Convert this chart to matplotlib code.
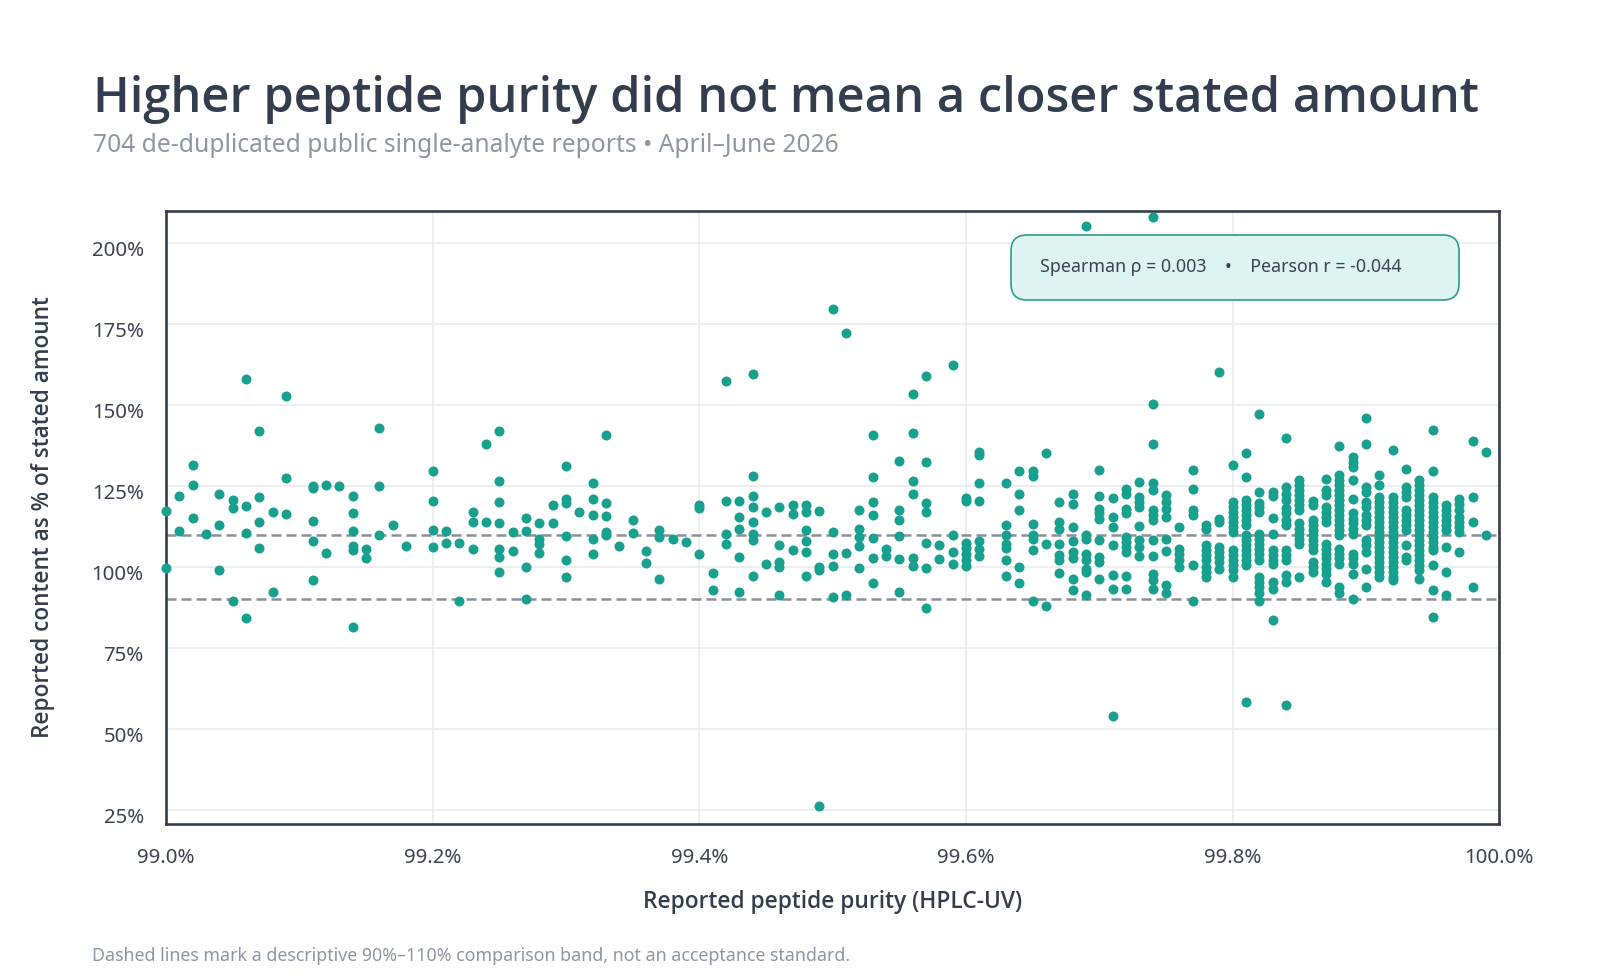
import numpy as np
import matplotlib
matplotlib.use("Agg")
import matplotlib.pyplot as plt
from matplotlib.patches import FancyBboxPatch
from matplotlib.transforms import IdentityTransform, ScaledTranslation

plt.rcParams['font.family'] = ['Noto Sans', 'DejaVu Sans']
heavy = ['Open Sans', 'Noto Sans', 'DejaVu Sans']

# reported purity (HPLC-UV, %) and the content values read at each purity level
purity_levels = [
    99.00, 99.01, 99.02, 99.03, 99.04, 99.05, 99.06, 99.07, 99.08, 99.09,
    99.11, 99.12, 99.13, 99.14, 99.15, 99.16, 99.17, 99.18,
    99.20, 99.21, 99.22, 99.23, 99.24, 99.25, 99.26, 99.27, 99.28, 99.29,
    99.30, 99.31, 99.32, 99.33, 99.34, 99.35, 99.36, 99.37, 99.38, 99.39,
    99.40, 99.41, 99.42, 99.43, 99.44, 99.45, 99.46, 99.47, 99.48, 99.49,
    99.50, 99.51, 99.52, 99.53, 99.54, 99.55, 99.56, 99.57, 99.58, 99.59,
    99.60, 99.61, 99.63, 99.64, 99.65, 99.66, 99.67, 99.68, 99.69,
    99.70, 99.71, 99.72, 99.73, 99.74, 99.75, 99.76, 99.77, 99.78, 99.79,
    99.80, 99.81, 99.82, 99.83, 99.84, 99.85, 99.86, 99.87, 99.88, 99.89,
    99.90, 99.91, 99.92, 99.93, 99.94, 99.95, 99.96, 99.97, 99.98, 99.99,
]

content_by_level = [
    [117.2, 99.8],
    [122.0, 111.2],
    [131.6, 125.4, 115.2],
    [110.3],
    [122.5, 112.8, 99.0],
    [120.6, 118.3, 89.4],
    [158.1, 118.7, 110.6, 84.1],
    [141.9, 121.5, 114.0, 105.7],
    [116.8, 92.1],
    [152.9, 127.3, 116.3],
    [125.0, 124.4, 114.2, 108.1, 95.9],
    [125.4, 104.4],
    [124.9],
    [122.0, 116.6, 111.2, 106.5, 105.2, 81.5],
    [105.5, 102.6],
    [143.0, 125.1, 110.0],
    [112.8],
    [106.6],
    [129.7, 120.5, 111.4, 106.2],
    [111.2, 107.5],
    [107.3, 89.4],
    [116.9, 114.0, 105.4],
    [138.1, 114.0],
    [142.1, 126.4, 120.1, 113.4, 105.5, 103.1, 98.4],
    [110.9, 104.8],
    [115.2, 111.2, 99.9, 90.2],
    [113.4, 108.6, 107.2, 104.4],
    [119.2, 113.4],
    [131.3, 121.0, 119.8, 109.4, 102.1, 97.0],
    [117.1],
    [126.0, 121.1, 116.0, 108.5, 104.0],
    [140.6, 119.7, 115.6, 110.8, 109.8],
    [106.4],
    [114.4, 110.4],
    [104.8, 101.1],
    [111.5, 109.1, 96.2],
    [108.5],
    [107.6],
    [119.1, 118.2, 104.1],
    [98.1, 92.8],
    [157.5, 120.5, 110.2, 107.0],
    [120.2, 115.4, 111.8, 103.1, 92.3],
    [159.7, 128.0, 121.8, 118.5, 113.9, 110.3, 108.2, 97.3],
    [116.8, 100.8],
    [118.5, 106.7, 101.6, 100.0, 91.3],
    [119.0, 116.2, 105.2],
    [119.0, 116.8, 111.3, 108.0, 104.6, 97.1],
    [117.4, 100.0, 99.0, 26.1],
    [179.5, 110.7, 104.1, 100.4, 90.6],
    [172.2, 104.3, 91.2],
    [117.5, 111.7, 109.3, 106.4, 99.7],
    [140.6, 127.7, 119.9, 116.0, 108.8, 102.7, 94.9],
    [105.4, 103.3],
    [132.6, 117.7, 114.4, 109.5, 102.4, 92.3],
    [153.3, 141.2, 126.5, 122.4, 102.6, 100.4],
    [159.1, 132.3, 119.7, 117.0, 107.5, 99.7, 87.2],
    [106.9, 102.3],
    [162.2, 110.0, 104.6, 100.8],
    [121.2, 120.3, 107.5, 105.7, 104.1, 102.1, 100.2],
    [135.5, 134.5, 126.0, 120.4, 107.9, 105.4, 103.3],
    [126.0, 112.8, 109.8, 107.2, 105.7, 102.1, 97.3],
    [129.5, 122.6, 117.5, 100.0, 95.0],
    [129.6, 128.0, 113.2, 109.8, 108.7, 105.3, 89.5],
    [135.3, 107.2, 88.0],
    [120.0, 113.9, 111.8, 107.0, 103.6, 102.0, 98.2],
    [122.6, 119.5, 112.3, 107.9, 104.6, 102.6, 96.3, 92.8],
    [205.2, 110.0, 108.7, 104.1, 102.0, 99.5, 98.4, 91.2],
    [129.8, 122.0, 118.0, 116.5, 114.9, 108.4, 103.1, 101.5, 96.4],
    [121.4, 115.4, 112.3, 106.9, 97.4, 93.3, 54.1],
    [124.2, 122.6, 118.0, 116.5, 109.2, 107.7, 106.2, 104.6, 97.1, 93.3],
    [126.2, 121.6, 120.0, 118.5, 112.6, 108.2, 106.2, 103.3],
    [207.9, 150.4, 138.1, 125.9, 123.7, 117.5, 115.9, 114.4, 108.4, 103.4, 97.9, 95.9, 93.3],
    [122.1, 120.0, 118.0, 115.4, 108.7, 104.9, 94.3, 91.8],
    [112.3, 105.6, 104.1, 102.0, 100.0],
    [130.0, 124.2, 117.5, 115.9, 100.5, 89.5],
    [112.8, 111.8, 106.7, 105.1, 103.6, 102.0, 100.0, 98.4, 96.9],
    [160.3, 114.9, 113.9, 106.2, 104.6, 103.1, 101.5, 99.5],
    [131.6, 120.0, 118.5, 117.0, 115.4, 113.9, 112.3, 110.8, 105.1, 103.6, 102.0, 100.5, 99.0, 96.9],
    [135.3, 127.8, 120.6, 119.0, 117.5, 115.9, 114.4, 112.9, 109.8, 108.2, 106.7, 105.1, 103.6,
     102.0, 100.5, 58.2],
    [147.3, 123.1, 119.7, 118.5, 117.0, 110.3, 108.7, 107.2, 105.6, 104.1, 102.0, 96.9, 95.4,
     93.8, 91.8, 89.5],
    [123.1, 121.8, 115.1, 110.3, 105.1, 103.6, 102.0, 100.8, 95.4, 93.3, 83.7],
    [139.9, 124.7, 122.6, 120.6, 118.2, 116.5, 114.6, 112.9, 105.1, 103.6, 102.0, 97.4, 95.4, 57.2],
    [126.7, 125.2, 123.6, 122.1, 120.6, 119.0, 117.5, 113.4, 111.8, 110.3, 108.7, 107.2, 96.9],
    [120.4, 119.0, 114.4, 112.9, 111.3, 109.8, 108.2, 106.7, 105.1, 101.5, 100.0, 98.4],
    [127.2, 123.6, 122.1, 118.5, 117.0, 115.4, 113.9, 107.2, 105.6, 104.1, 102.6, 101.0, 99.5,
     97.9, 95.4],
    [137.2, 128.3, 126.7, 125.2, 123.6, 122.1, 120.6, 119.0, 117.5, 115.9, 114.4, 112.9, 111.3,
     109.8, 105.6, 104.1, 102.6, 101.0, 93.8, 91.8],
    [133.9, 132.4, 130.9, 126.9, 121.1, 116.5, 114.9, 113.4, 111.8, 110.3, 104.1, 102.6, 101.0,
     97.9, 90.2],
    [146.1, 137.8, 124.7, 123.1, 120.0, 118.5, 115.9, 114.4, 112.9, 108.2, 106.7, 104.6, 99.2, 93.8],
    [128.3, 125.2, 121.6, 120.0, 118.5, 117.0, 115.4, 113.9, 112.3, 110.8, 109.2, 107.7, 106.2,
     104.6, 103.1, 101.5, 100.0, 98.4, 96.9],
    [136.2, 121.6, 120.0, 118.5, 117.0, 115.4, 113.9, 112.3, 110.8, 109.2, 107.7, 106.2, 104.6,
     103.1, 101.5, 100.0, 98.4, 96.9, 96.0],
    [130.3, 124.7, 123.1, 121.6, 117.5, 115.9, 114.4, 112.9, 111.3, 106.7, 103.1, 102.0],
    [126.7, 125.2, 123.6, 122.1, 120.6, 119.0, 117.5, 115.9, 114.4, 112.9, 111.3, 109.8, 108.2,
     106.7, 105.1, 103.6, 102.0, 100.5, 99.0, 96.4],
    [142.2, 129.5, 121.6, 120.0, 118.5, 117.0, 115.4, 113.9, 112.3, 110.8, 109.2, 107.7, 106.2,
     105.1, 100.5, 92.8, 84.4],
    [119.0, 117.5, 115.9, 114.4, 112.9, 111.3, 106.2, 98.4, 91.2],
    [121.1, 119.5, 117.5, 115.4, 113.9, 112.3, 110.8, 104.6],
    [138.8, 121.6, 113.9, 93.8],
    [135.5, 110.0],
]

band_low, band_high = 90, 110
x_ticks = [99.0, 99.2, 99.4, 99.6, 99.8, 100.0]
y_ticks = [25, 50, 75, 100, 125, 150, 175, 200]
stats_text = "Spearman \u03c1 = 0.003    \u2022    Pearson r = -0.044"

x = np.repeat(purity_levels, [len(v) for v in content_by_level])
y = np.concatenate([np.array(v, dtype=float) for v in content_by_level])

dark = '#333d4d'
teal = '#17a08d'

fig = plt.figure(figsize=(16, 9.8), dpi=100)
ax = fig.add_axes([0.10375, 0.15918, 0.83335, 0.62551])

ax.set_axisbelow(True)
ax.grid(True, color='#e7e9ec', linewidth=1.1)
for v in (band_low, band_high):
    ax.axhline(v, color='#8b9098', linewidth=1.8, dashes=(4, 2), zorder=2)
ax.scatter(x, y, s=52, color=teal, linewidths=0, zorder=3, clip_on=False)

ax.set_xlim(99.0, 100.0)
ax.set_ylim(20.6, 209.9)
ax.set_xticks(x_ticks)
ax.set_xticklabels([f"{t:.1f}%" for t in x_ticks])
ax.set_yticks(y_ticks)
ax.set_yticklabels([f"{t}%" for t in y_ticks])
ax.tick_params(length=0, labelsize=14.7, labelcolor='#3a4352')
ax.tick_params(axis='x', pad=17)
ax.tick_params(axis='y', pad=16)
shift = ScaledTranslation(0, -4 / 72, fig.dpi_scale_trans)
for lab in ax.get_yticklabels():
    lab.set_transform(lab.get_transform() + shift)

for sp in ax.spines.values():
    sp.set_color(dark)
    sp.set_linewidth(1.9)

ax.set_xlabel("Reported peptide purity (HPLC-UV)", fontsize=16.4, color=dark,
              family=heavy, fontweight='semibold', va='center')
ax.xaxis.set_label_coords(0.5, -0.1272)
ax.set_ylabel("Reported content as % of stated amount", fontsize=16.3, color=dark,
              family=heavy, fontweight='semibold', va='center')
ax.yaxis.set_label_coords(-0.0925, 0.5)

# stats box (pixel coordinates)
box = FancyBboxPatch((1011, 680), 448, 65, boxstyle="round,pad=0,rounding_size=16",
                     transform=IdentityTransform(), facecolor='#def4f0',
                     edgecolor='#2a9d8f', linewidth=1.2, zorder=5)
fig.add_artist(box)
fig.text(1040 / 1600, 713 / 980, stats_text, fontsize=12.8, color='#3a4352',
         ha='left', va='center', zorder=6)

fig.text(0.0579, 0.886, "Higher peptide purity did not mean a closer stated amount",
         fontsize=35.2, family=heavy, fontweight='semibold', color=dark, va='baseline')
fig.text(0.0579, 0.8452, "704 de-duplicated public single-analyte reports \u2022 April\u2013June 2026",
         fontsize=17.7, color='#8d96a3', va='baseline')
fig.text(0.0572, 0.0194,
         "Dashed lines mark a descriptive 90%\u2013110% comparison band, not an acceptance standard.",
         fontsize=12.8, color='#8d96a3', va='baseline')

fig.savefig("out.png", dpi=100)
